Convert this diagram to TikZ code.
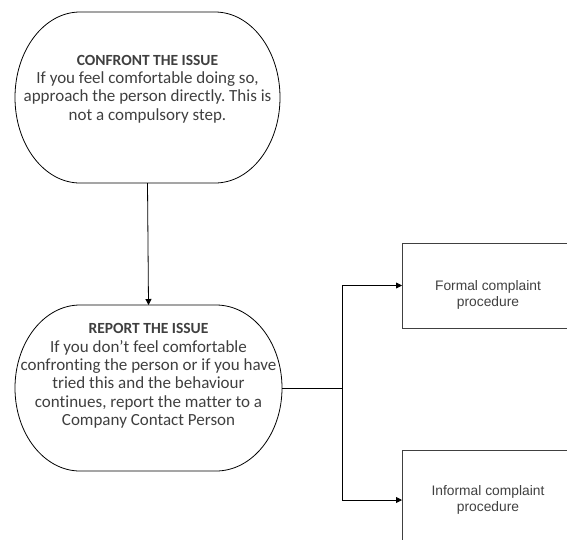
\documentclass[tikz,border=0pt]{standalone}
\usepackage{fontspec}
\setmainfont{Carlito}[Ligatures={NoCommon}]
\newfontfamily\arialfont{Liberation Sans}
\usetikzlibrary{arrows.meta}
\definecolor{txtgray}{HTML}{3F3F3F}
\definecolor{boxgray}{HTML}{404040}
\frenchspacing
\begin{document}
\begin{tikzpicture}[x=1pt,y=-1pt,
  shapeline/.style={draw=black,line width=0.8pt},
  anchorbox/.style={inner sep=0pt,outer sep=0pt,draw=none},
  bodytext/.style={align=center,text=txtgray,inner sep=0pt,font=\fontsize{17}{18.4}\selectfont},
  procbox/.style={draw=boxgray,line width=0.8pt,inner sep=0pt,outer sep=0pt},
  proctext/.style={align=center,text=boxgray,inner sep=0pt,font=\arialfont\fontsize{13.8}{16}\selectfont},
  conn/.style={draw=black,line width=0.8pt},
  arr/.style={conn,-{Triangle[length=6pt,width=6pt]}}]
\useasboundingbox (0,0) rectangle (567,539);
% CONFRONT shape
\draw[shapeline] (80,12) -- (215,12) arc[start angle=90,end angle=-90,x radius=65pt,y radius=85.5pt]
  -- (80,183) arc[start angle=270,end angle=90,x radius=65pt,y radius=85.5pt] -- cycle;
\node[anchorbox,minimum width=265pt,minimum height=171pt] (confront) at (147.5,97.5) {};
\node[bodytext] (confronttext) at (147.5,89) {{\fontsize{15.5}{18.4}\selectfont\bfseries CONFRONT THE ISSUE}\\If you feel comfortable doing so,\\approach the person directly. This is\\not a compulsory step.};
% REPORT shape
\draw[shapeline] (80,305) -- (216,305) arc[start angle=90,end angle=-90,x radius=66pt,y radius=83pt]
  -- (80,471) arc[start angle=270,end angle=90,x radius=65pt,y radius=83pt] -- cycle;
\node[anchorbox,minimum width=267pt,minimum height=166pt] (report) at (148.5,388) {};
\node[bodytext] (reporttext) at (148.5,376) {{\fontsize{15.5}{18.4}\selectfont\bfseries REPORT THE ISSUE}\\If you don’t feel comfortable\\confronting the person or if you have\\tried this and the behaviour\\continues, report the matter to a\\Company Contact Person};
% procedure boxes
\node[procbox,anchor=north west,minimum width=172pt,minimum height=85pt] (formal) at (402,243) {};
\node[proctext] (formaltext) at (488,295) {Formal complaint\\procedure};
\node[procbox,anchor=north west,minimum width=172pt,minimum height=100pt] (informal) at (402,450) {};
\node[proctext] (informaltext) at (488,499.5) {Informal complaint\\procedure};
% connectors
\coordinate (split) at (342,388);
\draw[arr] (confront.south) -- (report.north);
\draw[conn] (report.east) -- (split);
\draw[arr] (split) |- (formal.west);
\draw[arr] (split) |- (informal.west);
\end{tikzpicture}
\end{document}
